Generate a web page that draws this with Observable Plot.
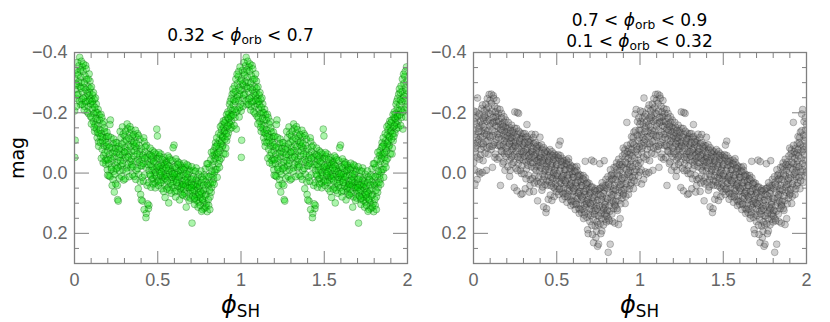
<!DOCTYPE html>
<html><head><meta charset="utf-8">
<script src="https://cdn.jsdelivr.net/npm/d3@7"></script>
<script src="https://cdn.jsdelivr.net/npm/@observablehq/plot@0.6"></script>
<style>
body{margin:0;background:#fff;}
#wrap{position:relative;width:830px;height:322px;font-family:"Liberation Sans",Arial,sans-serif;overflow:hidden;}
.panel{position:absolute;top:0;}
.t{position:absolute;font-family:"DejaVu Sans",sans-serif;font-size:17px;line-height:17px;color:#000;white-space:nowrap;transform:translateX(-50%);}
.t i,.xl i{font-family:"DejaVu Sans",sans-serif;font-style:oblique;}
.t sub{font-size:0.72em;vertical-align:-0.28em;line-height:0;}
.xl{position:absolute;font-family:"DejaVu Sans",sans-serif;font-size:24px;line-height:24px;color:#000;white-space:nowrap;transform:translateX(-50%);}
.xl sub{font-size:0.7em;vertical-align:-0.22em;line-height:0;}
.yl{position:absolute;font-family:"DejaVu Sans",sans-serif;font-size:19px;color:#000;white-space:nowrap;transform:translate(-50%,-50%) rotate(-90deg);}
</style>
</head><body>
<div id="wrap"></div>
<script>
// Tick values
const xMajor = [0, 0.5, 1, 1.5, 2];
const xMinor = [0.1,0.2,0.3,0.4,0.6,0.7,0.8,0.9,1.1,1.2,1.3,1.4,1.6,1.7,1.8,1.9];
const yMajor = [-0.4, -0.2, 0, 0.2];
const yMinor = [-0.35,-0.3,-0.25,-0.15,-0.1,-0.05,0.05,0.1,0.15,0.25];

// Left panel (0.32 < phi_orb < 0.7): [phi_SH, mag] over one cycle
const greenPoints = [
[0.003,-0.312],[0.027,-0.356],[0.011,-0.248],[0.042,-0.301],[0.019,-0.333],[0.036,-0.227],[0.006,-0.277],[0.048,-0.352],[0.031,-0.384],[0.014,-0.291],[0.022,-0.262],[0.044,-0.244],[0.008,-0.341],[0.038,-0.318],[0.001,-0.206],[0.025,-0.303],[0.017,-0.367],[0.047,-0.269],[0.033,-0.287],[0.004,-0.109],[0.002,-0.052],[0.012,-0.221],[0.029,-0.239],[0.041,-0.371],[0.021,-0.326],[0.009,-0.296],[0.035,-0.342],[0.046,-0.228],[0.016,-0.259],[0.039,-0.281],
[0.052,-0.338],[0.078,-0.264],[0.061,-0.221],[0.093,-0.305],[0.067,-0.357],[0.085,-0.197],[0.056,-0.284],[0.099,-0.246],[0.072,-0.311],[0.064,-0.252],[0.088,-0.329],[0.058,-0.209],[0.081,-0.287],[0.096,-0.188],[0.069,-0.276],[0.054,-0.362],[0.091,-0.268],[0.075,-0.238],[0.083,-0.221],[0.063,-0.323],[0.097,-0.229],[0.071,-0.346],[0.087,-0.257],[0.059,-0.299],[0.077,-0.203],[0.094,-0.281],[0.066,-0.236],[0.082,-0.312],[0.053,-0.248],[0.089,-0.242],
[0.102,-0.286],[0.127,-0.203],[0.113,-0.171],[0.141,-0.158],[0.119,-0.244],[0.136,-0.117],[0.106,-0.212],[0.148,-0.193],[0.124,-0.161],[0.131,-0.229],[0.109,-0.259],[0.144,-0.103],[0.116,-0.197],[0.138,-0.176],[0.121,-0.138],[0.104,-0.183],[0.133,-0.146],[0.147,-0.131],[0.111,-0.227],[0.129,-0.182],[0.142,-0.211],[0.118,-0.152],[0.107,-0.238],[0.135,-0.201],[0.126,-0.249],[0.145,-0.089],[0.114,-0.267],[0.139,-0.134],[0.122,-0.218],[0.101,-0.163],
[0.152,-0.176],[0.177,-0.091],[0.163,-0.131],[0.191,-0.047],[0.169,-0.162],[0.186,-0.114],[0.156,-0.102],[0.198,-0.073],[0.174,-0.058],[0.181,-0.138],[0.159,-0.195],[0.194,-0.121],[0.166,-0.079],[0.188,-0.029],[0.171,-0.117],[0.154,-0.143],[0.183,-0.068],[0.197,-0.011],[0.161,-0.049],[0.179,-0.149],[0.192,-0.089],[0.168,-0.107],[0.157,-0.121],[0.185,-0.042],[0.176,-0.171],[0.195,-0.136],[0.164,-0.184],[0.189,-0.101],[0.172,-0.034],[0.199,0.007],
[0.203,-0.094],[0.228,-0.041],[0.214,0.012],[0.241,-0.072],[0.219,-0.118],[0.236,-0.006],[0.206,-0.032],[0.248,-0.101],[0.224,-0.083],[0.231,0.021],[0.209,-0.061],[0.244,-0.027],[0.216,-0.176],[0.238,-0.054],[0.221,-0.018],[0.204,-0.122],[0.233,-0.097],[0.247,0.036],[0.211,-0.086],[0.229,-0.066],[0.242,0.004],[0.218,-0.049],[0.207,0.009],[0.235,-0.113],[0.226,0.041],[0.245,-0.082],[0.213,-0.161],[0.239,0.063],[0.222,-0.012],[0.201,-0.044],
[0.253,-0.067],[0.278,-0.024],[0.264,-0.089],[0.291,-0.011],[0.269,0.017],[0.286,-0.058],[0.256,-0.036],[0.298,-0.104],[0.274,-0.138],[0.281,-0.082],[0.259,0.088],[0.294,-0.043],[0.266,-0.052],[0.288,-0.153],[0.271,-0.007],[0.254,-0.101],[0.283,0.011],[0.297,-0.071],[0.261,-0.019],[0.279,-0.117],[0.292,-0.129],[0.268,-0.078],[0.257,0.041],[0.285,-0.096],[0.276,-0.041],[0.295,0.023],[0.263,0.093],[0.289,-0.031],[0.272,-0.062],[0.251,-0.014],
[0.303,-0.123],[0.328,-0.061],[0.314,-0.017],[0.341,-0.107],[0.319,-0.148],[0.336,-0.039],[0.306,-0.084],[0.348,0.006],[0.324,-0.094],[0.331,-0.132],[0.309,-0.052],[0.344,-0.071],[0.316,-0.163],[0.338,-0.018],[0.321,-0.029],[0.304,0.019],[0.333,-0.154],[0.347,-0.121],[0.311,-0.109],[0.329,0.012],[0.342,-0.046],[0.318,-0.074],[0.307,-0.139],[0.335,-0.087],[0.326,-0.116],[0.345,-0.028],[0.313,-0.006],[0.339,-0.144],[0.322,-0.053],[0.301,-0.069],
[0.353,-0.096],[0.378,-0.131],[0.364,-0.038],[0.391,-0.071],[0.369,-0.119],[0.386,0.004],[0.356,-0.057],[0.398,-0.024],[0.374,-0.083],[0.381,-0.046],[0.359,0.011],[0.394,-0.112],[0.366,-0.142],[0.388,-0.092],[0.371,-0.009],[0.354,-0.128],[0.383,0.052],[0.397,0.071],[0.361,-0.074],[0.379,-0.015],[0.392,-0.058],[0.368,0.021],[0.357,-0.103],[0.385,-0.124],[0.376,-0.063],[0.395,0.029],[0.363,-0.089],[0.389,-0.036],[0.372,-0.099],[0.351,-0.021],
[0.403,-0.081],[0.428,-0.019],[0.414,0.027],[0.441,-0.063],[0.419,-0.104],[0.436,0.041],[0.406,-0.046],[0.448,-0.009],[0.424,-0.071],[0.431,0.134],[0.409,0.093],[0.444,0.118],[0.416,-0.117],[0.438,-0.039],[0.421,0.006],[0.404,-0.024],[0.433,-0.092],[0.447,0.107],[0.411,-0.059],[0.429,0.148],[0.442,-0.028],[0.418,0.121],[0.407,0.014],[0.435,-0.053],[0.426,-0.087],[0.445,0.032],[0.413,-0.032],[0.439,0.102],[0.422,-0.049],[0.401,0.089],
[0.453,-0.061],[0.478,-0.012],[0.464,0.021],[0.491,-0.047],[0.469,-0.074],[0.486,0.033],[0.456,-0.029],[0.498,-0.123],[0.474,-0.051],[0.481,0.006],[0.459,0.047],[0.494,-0.146],[0.466,-0.008],[0.488,-0.063],[0.471,0.018],[0.454,-0.083],[0.483,-0.034],[0.497,0.027],[0.461,-0.044],[0.479,-0.069],[0.492,0.011],[0.468,-0.021],[0.457,0.009],[0.485,0.049],[0.476,-0.039],[0.495,-0.018],[0.463,-0.057],[0.489,-0.002],[0.472,0.036],[0.451,0.004],
[0.503,-0.049],[0.528,0.014],[0.514,-0.021],[0.541,0.039],[0.519,-0.063],[0.536,-0.007],[0.506,0.026],[0.548,-0.041],[0.524,0.052],[0.531,-0.033],[0.509,-0.011],[0.544,0.081],[0.516,0.008],[0.538,-0.052],[0.521,-0.027],[0.504,0.041],[0.533,0.023],[0.547,0.003],[0.511,-0.056],[0.529,-0.016],[0.542,-0.029],[0.518,0.031],[0.507,-0.068],[0.535,0.061],[0.526,-0.045],[0.545,0.018],[0.513,0.002],[0.539,0.009],[0.522,-0.004],[0.501,-0.024],
[0.553,-0.036],[0.578,0.021],[0.564,0.047],[0.591,-0.019],[0.569,-0.051],[0.586,0.041],[0.556,0.012],[0.598,-0.093],[0.574,-0.014],[0.581,0.067],[0.559,-0.028],[0.594,0.028],[0.566,0.099],[0.588,-0.041],[0.571,0.004],[0.554,0.053],[0.583,-0.006],[0.597,0.009],[0.561,-0.057],[0.579,0.034],[0.592,-0.084],[0.568,-0.023],[0.557,0.026],[0.585,0.014],[0.576,-0.044],[0.595,0.049],[0.563,-0.009],[0.589,0.002],[0.572,0.057],[0.551,-0.017],
[0.603,-0.021],[0.628,0.034],[0.614,0.058],[0.641,-0.011],[0.619,-0.038],[0.636,0.051],[0.606,0.017],[0.648,0.071],[0.624,-0.004],[0.631,0.089],[0.609,-0.047],[0.644,0.026],[0.616,0.004],[0.638,-0.026],[0.621,0.043],[0.604,0.062],[0.633,0.009],[0.647,0.038],[0.611,-0.016],[0.629,-0.034],[0.642,0.047],[0.618,0.022],[0.607,0.079],[0.635,-0.008],[0.626,0.013],[0.645,-0.019],[0.613,0.031],[0.639,0.063],[0.622,-0.029],[0.601,0.003],
[0.653,0.006],[0.678,0.047],[0.664,-0.019],[0.691,0.068],[0.669,0.029],[0.686,-0.011],[0.656,0.053],[0.698,0.021],[0.674,0.079],[0.681,0.004],[0.659,-0.033],[0.694,0.043],[0.666,0.012],[0.688,0.091],[0.671,0.113],[0.654,0.038],[0.683,-0.024],[0.697,0.057],[0.661,0.067],[0.679,0.016],[0.692,-0.006],[0.668,0.041],[0.657,-0.012],[0.685,0.031],[0.676,-0.028],[0.695,0.083],[0.663,0.024],[0.689,0.049],[0.672,0.002],[0.651,0.074],
[0.703,0.034],[0.728,0.071],[0.714,-0.009],[0.741,0.052],[0.719,0.088],[0.736,0.016],[0.706,0.166],[0.748,0.097],[0.724,0.041],[0.731,-0.017],[0.709,0.061],[0.744,0.029],[0.716,0.011],[0.738,0.079],[0.721,0.104],[0.704,-0.021],[0.733,0.046],[0.747,0.004],[0.711,0.076],[0.729,0.024],[0.742,0.113],[0.718,0.057],[0.707,0.019],[0.735,0.091],[0.726,-0.006],[0.745,0.066],[0.713,0.039],[0.739,0.037],[0.722,0.083],[0.701,0.048],
[0.753,0.044],[0.778,0.098],[0.764,0.013],[0.791,0.071],[0.769,0.121],[0.786,-0.014],[0.756,0.082],[0.798,0.036],[0.774,0.059],[0.781,0.117],[0.759,-0.007],[0.794,0.102],[0.766,0.067],[0.788,0.028],[0.771,0.091],[0.754,0.107],[0.783,0.052],[0.797,0.128],[0.761,0.031],[0.779,0.006],[0.792,0.011],[0.768,0.086],[0.757,0.061],[0.785,0.076],[0.776,0.039],[0.795,-0.031],[0.763,0.127],[0.789,0.113],[0.772,0.021],[0.751,0.072],
[0.803,0.041],[0.828,-0.027],[0.814,0.079],[0.841,-0.061],[0.819,0.006],[0.836,0.021],[0.806,0.107],[0.848,-0.012],[0.824,0.048],[0.831,-0.058],[0.809,-0.019],[0.844,-0.086],[0.816,0.033],[0.838,-0.039],[0.821,0.064],[0.804,0.088],[0.833,0.009],[0.847,-0.101],[0.811,0.057],[0.829,0.032],[0.842,-0.003],[0.818,-0.044],[0.807,0.012],[0.835,-0.074],[0.826,-0.006],[0.845,-0.049],[0.813,0.121],[0.839,0.037],[0.822,-0.069],[0.801,-0.031],
[0.853,-0.064],[0.878,-0.127],[0.864,-0.031],[0.891,-0.092],[0.869,-0.108],[0.886,-0.161],[0.856,-0.012],[0.898,-0.136],[0.874,-0.074],[0.881,-0.049],[0.859,-0.096],[0.894,-0.173],[0.866,-0.131],[0.888,-0.087],[0.871,-0.019],[0.854,-0.117],[0.883,-0.143],[0.897,-0.064],[0.861,-0.052],[0.879,-0.097],[0.892,-0.118],[0.868,-0.081],[0.857,0.014],[0.885,-0.106],[0.876,-0.154],[0.895,-0.151],[0.863,-0.067],[0.889,-0.121],[0.872,-0.042],[0.851,-0.089],
[0.903,-0.141],[0.928,-0.197],[0.914,-0.107],[0.941,-0.248],[0.919,-0.183],[0.936,-0.161],[0.906,-0.176],[0.948,-0.207],[0.924,-0.132],[0.931,-0.228],[0.909,-0.083],[0.944,-0.173],[0.916,-0.154],[0.938,-0.214],[0.921,-0.203],[0.904,-0.112],[0.933,-0.146],[0.947,-0.262],[0.911,-0.131],[0.929,-0.167],[0.942,-0.192],[0.918,-0.121],[0.907,-0.063],[0.935,-0.238],[0.926,-0.181],[0.945,-0.151],[0.913,-0.194],[0.939,-0.187],[0.922,-0.157],[0.901,-0.167],
[0.953,-0.226],[0.978,-0.297],[0.964,-0.184],[0.991,-0.261],[0.969,-0.312],[0.986,-0.337],[0.956,-0.267],[0.998,-0.229],[0.974,-0.248],[0.981,-0.209],[0.959,-0.158],[0.994,-0.352],[0.966,-0.237],[0.988,-0.283],[0.971,-0.202],[0.954,-0.193],[0.983,-0.321],[0.997,-0.306],[0.961,-0.289],[0.979,-0.256],[0.992,-0.217],[0.968,-0.271],[0.957,-0.243],[0.985,-0.241],[0.976,-0.328],[0.995,-0.274],[0.963,-0.211],[0.989,-0.186],[0.972,-0.146],[0.951,-0.279]
];

// Right panel (0.7 < phi_orb < 0.9 and 0.1 < phi_orb < 0.32)
const grayPoints = [
[0.003,-0.142],[0.027,-0.188],[0.011,-0.067],[0.042,-0.121],[0.019,-0.163],[0.036,-0.046],[0.006,-0.097],[0.048,-0.214],[0.031,-0.111],[0.014,-0.183],[0.022,0.021],[0.044,-0.079],[0.008,-0.128],[0.038,-0.156],[0.001,-0.034],[0.025,-0.103],[0.017,-0.203],[0.047,-0.138],[0.033,-0.004],[0.004,-0.171],[0.012,-0.082],[0.029,-0.137],[0.041,-0.172],[0.021,-0.053],[0.009,0.036],[0.035,-0.196],[0.046,-0.097],[0.016,-0.118],[0.039,0.003],[0.002,-0.206],[0.024,-0.249],[0.032,-0.149],[0.007,-0.011],[0.043,-0.061],[0.018,-0.091],
[0.052,-0.161],[0.078,-0.213],[0.061,-0.087],[0.093,-0.176],[0.067,-0.191],[0.085,-0.108],[0.056,-0.122],[0.099,-0.241],[0.072,-0.142],[0.064,-0.207],[0.088,-0.063],[0.058,-0.041],[0.081,-0.172],[0.096,-0.123],[0.069,-0.066],[0.054,-0.226],[0.091,-0.199],[0.075,-0.104],[0.083,-0.247],[0.063,-0.153],[0.097,-0.088],[0.071,-0.184],[0.087,-0.141],[0.059,-0.097],[0.077,-0.009],[0.094,-0.261],[0.066,-0.131],[0.082,-0.083],[0.053,-0.002],[0.089,-0.219],[0.062,-0.176],[0.074,-0.229],[0.098,-0.156],[0.057,-0.183],[0.079,-0.128],
[0.102,-0.196],[0.127,-0.221],[0.113,-0.143],[0.141,-0.187],[0.119,-0.257],[0.136,-0.112],[0.106,-0.078],[0.148,-0.153],[0.124,-0.171],[0.131,-0.063],[0.109,-0.232],[0.144,-0.214],[0.116,-0.124],[0.138,-0.241],[0.121,-0.094],[0.104,-0.164],[0.133,-0.186],[0.147,-0.091],[0.111,-0.206],[0.129,-0.137],[0.142,-0.046],[0.118,-0.184],[0.107,-0.262],[0.135,-0.157],[0.126,-0.101],[0.145,-0.128],[0.114,-0.019],[0.139,-0.173],[0.122,-0.248],[0.101,-0.119],[0.112,-0.089],[0.132,-0.203],[0.149,-0.198],[0.117,-0.167],[0.128,-0.052],
[0.152,-0.171],[0.177,-0.126],[0.163,-0.088],[0.191,-0.152],[0.169,-0.198],[0.186,-0.064],[0.156,-0.131],[0.198,-0.103],[0.174,-0.163],[0.181,-0.037],[0.159,-0.211],[0.194,-0.176],[0.166,-0.113],[0.188,-0.138],[0.171,-0.071],[0.154,-0.052],[0.183,-0.187],[0.197,-0.054],[0.161,-0.146],[0.179,-0.094],[0.192,-0.116],[0.168,-0.183],[0.157,-0.093],[0.185,-0.107],[0.176,-0.031],[0.195,-0.083],[0.163,-0.161],[0.189,-0.009],[0.172,-0.142],[0.151,-0.118],[0.162,0.041],[0.184,-0.169],[0.199,-0.137],[0.167,-0.074],[0.178,-0.154],
[0.203,-0.123],[0.228,-0.076],[0.214,-0.152],[0.241,-0.101],[0.219,-0.044],[0.236,-0.141],[0.206,-0.087],[0.248,-0.203],[0.224,-0.118],[0.231,-0.029],[0.209,-0.168],[0.244,-0.062],[0.216,-0.097],[0.238,-0.124],[0.221,-0.009],[0.204,-0.146],[0.233,-0.088],[0.247,-0.149],[0.211,-0.063],[0.229,-0.159],[0.242,-0.036],[0.218,-0.131],[0.207,-0.021],[0.235,-0.057],[0.226,-0.107],[0.245,0.048],[0.213,-0.114],[0.239,-0.082],[0.222,-0.142],[0.201,-0.071],[0.232,-0.117],[0.249,-0.093],[0.217,0.011],[0.227,-0.052],[0.243,-0.134],
[0.253,-0.104],[0.278,-0.063],[0.264,-0.128],[0.291,-0.087],[0.269,-0.031],[0.286,-0.114],[0.256,-0.072],[0.298,-0.043],[0.274,-0.097],[0.281,-0.009],[0.259,-0.148],[0.294,-0.121],[0.266,-0.054],[0.288,-0.072],[0.271,-0.198],[0.254,-0.016],[0.283,-0.133],[0.297,-0.064],[0.261,0.059],[0.279,-0.113],[0.292,-0.024],[0.268,-0.083],[0.257,-0.119],[0.285,0.071],[0.276,-0.044],[0.295,-0.097],[0.263,-0.201],[0.289,0.002],[0.272,-0.139],[0.251,-0.089],[0.282,-0.051],[0.299,-0.131],[0.265,-0.008],[0.277,-0.107],[0.293,0.068],
[0.303,-0.092],[0.328,-0.041],[0.314,-0.118],[0.341,-0.063],[0.319,-0.014],[0.336,-0.101],[0.306,-0.056],[0.348,-0.021],[0.324,-0.081],[0.331,0.008],[0.309,-0.131],[0.344,-0.107],[0.316,-0.037],[0.338,-0.048],[0.321,-0.161],[0.304,0.003],[0.333,-0.112],[0.347,-0.071],[0.311,0.052],[0.329,-0.094],[0.342,0.022],[0.318,-0.067],[0.307,-0.102],[0.335,0.063],[0.326,-0.026],[0.345,-0.087],[0.313,-0.078],[0.339,0.041],[0.322,-0.121],[0.301,-0.071],[0.332,-0.058],[0.349,-0.129],[0.315,0.019],[0.327,-0.104],[0.343,-0.036],
[0.353,-0.071],[0.378,-0.022],[0.364,-0.097],[0.391,-0.046],[0.369,0.009],[0.386,-0.083],[0.356,-0.034],[0.398,-0.008],[0.374,-0.061],[0.381,0.027],[0.359,-0.118],[0.394,-0.091],[0.366,-0.016],[0.388,-0.037],[0.371,-0.128],[0.354,0.018],[0.383,-0.093],[0.397,-0.053],[0.361,0.061],[0.379,-0.074],[0.392,0.014],[0.368,-0.048],[0.357,-0.081],[0.385,0.092],[0.376,-0.009],[0.395,-0.068],[0.363,-0.059],[0.389,0.036],[0.372,-0.101],[0.351,-0.053],[0.382,-0.041],[0.399,-0.119],[0.365,0.033],[0.377,-0.087],[0.393,-0.024],
[0.403,-0.052],[0.428,-0.006],[0.414,-0.078],[0.441,-0.029],[0.419,0.021],[0.436,-0.063],[0.406,-0.017],[0.448,0.009],[0.424,-0.043],[0.431,0.038],[0.409,-0.094],[0.444,-0.071],[0.416,0.004],[0.438,-0.021],[0.421,0.112],[0.404,0.031],[0.433,-0.076],[0.447,-0.038],[0.411,0.057],[0.429,-0.054],[0.442,0.024],[0.418,-0.031],[0.407,-0.066],[0.435,0.131],[0.426,0.011],[0.445,-0.052],[0.413,-0.041],[0.439,0.118],[0.422,-0.084],[0.401,-0.036],[0.432,-0.012],[0.449,0.087],[0.415,0.046],[0.427,-0.069],[0.443,0.041],
[0.453,-0.041],[0.478,0.006],[0.464,-0.063],[0.491,-0.017],[0.469,0.033],[0.486,-0.051],[0.456,-0.004],[0.498,0.021],[0.474,-0.032],[0.481,0.047],[0.459,-0.078],[0.494,-0.059],[0.466,0.014],[0.488,-0.009],[0.471,0.091],[0.454,0.029],[0.483,-0.064],[0.497,-0.026],[0.461,0.073],[0.479,-0.044],[0.492,0.036],[0.468,-0.019],[0.457,-0.054],[0.485,0.078],[0.476,0.018],[0.495,-0.041],[0.463,-0.027],[0.489,0.052],[0.472,-0.071],[0.451,-0.013],[0.482,-0.001],[0.499,0.062],[0.465,0.042],[0.477,-0.057],[0.493,0.009],
[0.503,-0.029],[0.528,0.019],[0.514,-0.048],[0.541,0.002],[0.519,0.051],[0.536,-0.036],[0.506,0.009],[0.548,0.037],[0.524,-0.017],[0.531,0.063],[0.509,-0.061],[0.544,-0.041],[0.516,0.028],[0.538,0.008],[0.521,-0.106],[0.504,0.044],[0.533,-0.049],[0.547,-0.011],[0.511,0.071],[0.529,-0.026],[0.542,0.052],[0.518,-0.007],[0.507,-0.052],[0.535,0.087],[0.526,0.033],[0.545,-0.024],[0.513,-0.093],[0.539,0.069],[0.522,-0.058],[0.501,0.003],[0.532,0.014],[0.549,0.078],[0.515,0.054],[0.527,-0.039],[0.543,0.024],
[0.553,-0.011],[0.578,0.042],[0.564,-0.028],[0.591,0.024],[0.569,0.073],[0.586,-0.014],[0.556,0.031],[0.598,0.061],[0.574,0.006],[0.581,0.089],[0.559,-0.043],[0.594,-0.021],[0.566,0.052],[0.588,0.034],[0.571,-0.048],[0.554,0.067],[0.583,-0.026],[0.597,0.013],[0.561,0.097],[0.579,-0.004],[0.592,0.079],[0.568,0.017],[0.557,-0.031],[0.585,0.108],[0.576,0.058],[0.595,0.003],[0.563,0.007],[0.589,0.094],[0.572,-0.036],[0.551,0.026],[0.582,0.039],[0.599,0.104],[0.565,0.079],[0.577,-0.017],[0.593,0.047],
[0.603,0.014],[0.628,0.067],[0.614,-0.004],[0.641,0.048],[0.619,0.101],[0.636,0.012],[0.606,0.057],[0.648,0.089],[0.624,0.032],[0.631,0.117],[0.609,-0.019],[0.644,0.007],[0.616,0.078],[0.638,0.061],[0.621,-0.022],[0.604,0.093],[0.633,0.004],[0.647,0.041],[0.611,0.121],[0.629,0.024],[0.642,0.107],[0.618,0.043],[0.607,-0.006],[0.635,0.134],[0.626,0.084],[0.645,0.029],[0.613,0.033],[0.639,0.121],[0.622,-0.009],[0.601,0.051],[0.632,0.066],[0.649,0.131],[0.615,0.104],[0.627,0.009],[0.643,0.074],
[0.653,0.042],[0.678,0.094],[0.664,0.023],[0.691,0.076],[0.669,0.129],[0.686,0.039],[0.656,0.084],[0.698,0.118],[0.674,0.061],[0.681,0.147],[0.659,0.008],[0.694,0.034],[0.666,0.106],[0.688,0.088],[0.671,-0.039],[0.654,0.119],[0.683,0.031],[0.697,0.069],[0.661,0.151],[0.679,0.052],[0.692,0.136],[0.668,0.071],[0.657,0.019],[0.685,0.188],[0.676,0.113],[0.695,0.054],[0.663,0.061],[0.689,0.201],[0.672,0.016],[0.651,0.079],[0.682,0.102],[0.699,0.161],[0.665,0.139],[0.677,0.036],[0.693,0.098],
[0.703,0.064],[0.728,0.117],[0.714,0.046],[0.741,0.097],[0.719,0.153],[0.736,0.061],[0.706,0.106],[0.748,0.142],[0.724,0.083],[0.731,0.176],[0.709,-0.043],[0.744,0.057],[0.716,0.128],[0.738,0.109],[0.721,0.231],[0.704,0.141],[0.733,0.052],[0.747,0.089],[0.711,0.173],[0.729,0.072],[0.742,0.162],[0.718,0.094],[0.707,0.047],[0.735,0.214],[0.726,0.136],[0.745,0.243],[0.713,0.081],[0.739,0.193],[0.722,-0.038],[0.701,0.101],[0.732,0.124],[0.749,0.171],[0.715,0.204],[0.727,0.058],[0.743,0.119],
[0.753,0.071],[0.778,0.124],[0.764,0.049],[0.791,0.096],[0.769,0.151],[0.786,0.058],[0.756,0.109],[0.798,0.134],[0.774,0.079],[0.781,0.172],[0.759,-0.031],[0.794,0.041],[0.766,0.133],[0.788,0.104],[0.771,0.192],[0.754,0.142],[0.783,0.048],[0.797,0.083],[0.761,0.168],[0.779,0.067],[0.792,0.153],[0.768,0.088],[0.757,0.052],[0.785,-0.041],[0.776,0.113],[0.795,0.021],[0.763,0.074],[0.789,0.137],[0.772,0.032],[0.751,0.236],[0.782,0.119],[0.799,0.162],[0.765,0.201],[0.777,0.043],[0.793,0.112],
[0.803,0.051],[0.828,0.097],[0.814,0.029],[0.841,0.071],[0.819,0.127],[0.836,0.018],[0.806,0.086],[0.848,0.104],[0.824,0.043],[0.831,0.136],[0.809,0.263],[0.844,-0.019],[0.816,0.109],[0.838,0.059],[0.821,0.236],[0.804,0.124],[0.833,0.003],[0.847,0.041],[0.811,0.152],[0.829,0.021],[0.842,0.118],[0.818,0.064],[0.807,0.012],[0.835,0.161],[0.826,0.082],[0.845,0.009],[0.813,0.037],[0.839,0.094],[0.822,-0.011],[0.801,0.143],[0.832,0.072],[0.849,0.166],[0.815,0.158],[0.827,0.007],[0.843,0.052],
[0.853,0.021],[0.878,0.064],[0.864,-0.012],[0.891,0.037],[0.869,0.092],[0.886,-0.021],[0.856,0.056],[0.898,0.073],[0.874,0.009],[0.881,0.151],[0.859,-0.034],[0.894,-0.057],[0.866,0.076],[0.888,0.024],[0.871,0.171],[0.854,0.094],[0.883,-0.036],[0.897,0.004],[0.861,0.118],[0.879,-0.008],[0.892,0.083],[0.868,0.031],[0.857,-0.021],[0.885,0.102],[0.876,0.047],[0.895,-0.029],[0.863,0.003],[0.889,0.058],[0.872,-0.046],[0.851,0.109],[0.882,0.039],[0.899,-0.083],[0.865,0.124],[0.877,-0.028],[0.893,0.017],
[0.903,-0.019],[0.928,0.023],[0.914,-0.054],[0.941,-0.007],[0.919,0.047],[0.936,-0.063],[0.906,0.014],[0.948,0.032],[0.924,-0.031],[0.931,0.071],[0.909,-0.077],[0.944,-0.097],[0.916,0.036],[0.938,-0.019],[0.921,-0.168],[0.904,0.054],[0.933,-0.081],[0.947,-0.041],[0.911,0.101],[0.929,-0.049],[0.942,0.041],[0.918,-0.011],[0.907,-0.064],[0.935,0.053],[0.926,0.004],[0.945,-0.068],[0.913,-0.036],[0.939,0.012],[0.922,-0.092],[0.901,0.069],[0.932,-0.002],[0.949,-0.121],[0.915,0.077],[0.927,-0.071],[0.943,-0.028],
[0.953,-0.057],[0.978,-0.011],[0.964,-0.094],[0.991,-0.043],[0.969,0.008],[0.986,-0.109],[0.956,-0.021],[0.998,-0.003],[0.974,-0.071],[0.981,0.031],[0.959,-0.118],[0.994,-0.142],[0.966,-0.004],[0.988,-0.062],[0.971,-0.196],[0.954,0.014],[0.983,-0.126],[0.997,-0.087],[0.961,0.052],[0.979,-0.087],[0.992,0.009],[0.968,-0.048],[0.957,-0.101],[0.985,-0.171],[0.976,-0.032],[0.995,-0.117],[0.963,-0.136],[0.989,-0.024],[0.972,-0.141],[0.951,-0.078],[0.982,-0.078],[0.999,-0.162],[0.965,0.026],[0.977,-0.211],[0.993,-0.184]
];

// The phase-folded light curve is shown twice (phase 0-1 and 1-2)
function unfold(points) {
  const out = [];
  for (const [p, m] of points) {
    out.push({phase: p, mag: m});
    out.push({phase: p + 1, mag: m});
  }
  return out;
}

const GRAY = "#808080";
function panel(data, dotStyle, ml, mr) {
  const tickMarks = [];
  for (const a of ["bottom", "top"]) {
    tickMarks.push(Plot.axisX(xMajor, {anchor: a, tickSize: -12, tickFormat: () => "", stroke: GRAY, label: null}));
    tickMarks.push(Plot.axisX(xMinor, {anchor: a, tickSize: -5, tickFormat: () => "", stroke: GRAY, label: null}));
  }
  for (const a of ["left", "right"]) {
    tickMarks.push(Plot.axisY(yMajor, {anchor: a, tickSize: -15, tickFormat: () => "", stroke: GRAY, label: null}));
    tickMarks.push(Plot.axisY(yMinor, {anchor: a, tickSize: -5, tickFormat: () => "", stroke: GRAY, label: null}));
  }
  return Plot.plot({
    width: 415, height: 322,
    marginTop: 52, marginBottom: 59, marginLeft: ml, marginRight: mr,
    style: {fontFamily: '"Liberation Sans", Arial, sans-serif', fontSize: "18px", background: "transparent", overflow: "visible"},
    x: {domain: [0, 2], axis: null},
    y: {domain: [-0.4, 0.3], reverse: true, axis: null},
    marks: [
      Plot.dot(data, {x: "phase", y: "mag", r: 3.4, strokeWidth: 0.8, clip: true, ...dotStyle}),
      ...tickMarks,
      Plot.frame({stroke: GRAY, strokeWidth: 1.3}),
      Plot.axisX(xMajor, {anchor: "bottom", tickSize: 0, tickPadding: 10, tickFormat: d => String(d), fill: "#666", label: null}),
      Plot.axisY(yMajor, {anchor: "left", tickSize: 0, tickPadding: 7, tickFormat: d3.format(".1f"), fill: "#666", label: null})
    ]
  });
}

const wrap = document.getElementById("wrap");
const left = panel(unfold(greenPoints), {fill: "#00e000", fillOpacity: 0.33, stroke: "#005a00", strokeOpacity: 0.4}, 74, 8);
left.classList.add("panel"); left.style.left = "0px";
const right = panel(unfold(grayPoints), {fill: "#6a6a6a", fillOpacity: 0.32, stroke: "#202020", strokeOpacity: 0.32}, 58, 24);
right.classList.add("panel"); right.style.left = "415px";
wrap.appendChild(left);
wrap.appendChild(right);

function addDiv(cls, html, x, y) {
  const d = document.createElement("div");
  d.className = cls; d.innerHTML = html;
  d.style.left = x + "px"; d.style.top = y + "px";
  wrap.appendChild(d);
}
addDiv("t", "0.32 &lt; <i>ϕ</i><sub>orb</sub> &lt; 0.7", 240.5, 27.3);
addDiv("t", "0.7 &lt; <i>ϕ</i><sub>orb</sub> &lt; 0.9", 639.5, 11.6);
addDiv("t", "0.1 &lt; <i>ϕ</i><sub>orb</sub> &lt; 0.32", 639.5, 33.3);
addDiv("xl", "<i>ϕ</i><sub>SH</sub>", 240.5, 293);
addDiv("xl", "<i>ϕ</i><sub>SH</sub>", 639.5, 293);
addDiv("yl", "mag", 16.5, 157.5);
</script>
</body></html>
